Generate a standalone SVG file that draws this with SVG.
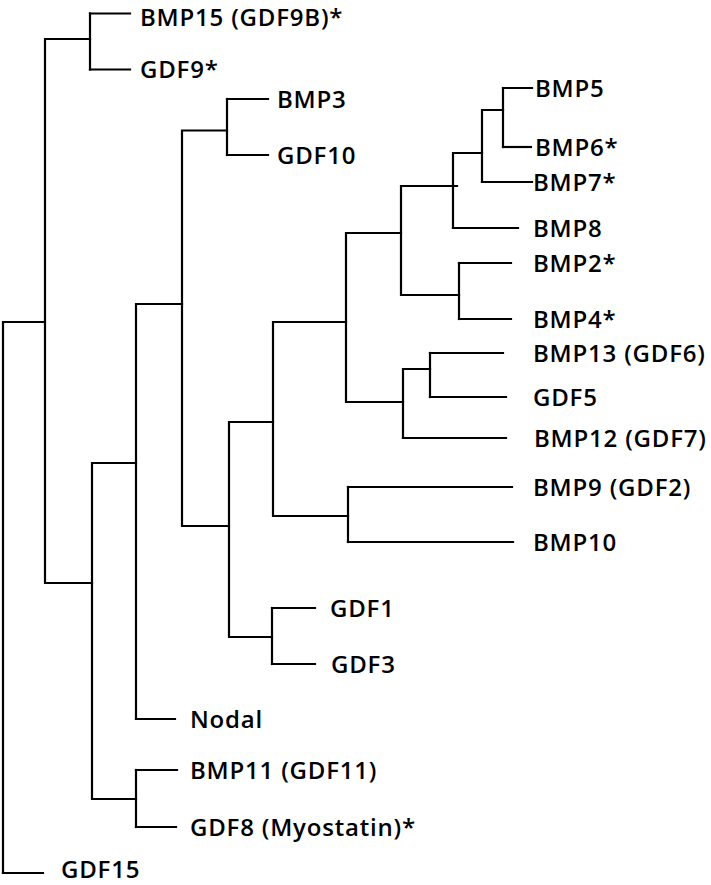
<svg xmlns="http://www.w3.org/2000/svg" width="711" height="885" viewBox="0 0 711 885">
<style>
.e{fill:none;stroke:#000;stroke-width:2.2;stroke-linecap:square}
.t{font-family:"Open Sans","Liberation Sans",sans-serif;font-size:24px;font-weight:600;letter-spacing:0.8px;fill:#000}
</style>
<rect width="711" height="885" fill="#fff"/>
<g id="connectors" class="e">
<path d="M3,322 V873 M3,322 H45"/>
<path d="M45,39 V583 M45,39 H90 M45,583 H92"/>
<path d="M90,13.5 V69.5"/>
<path d="M92,463 V799 M92,463 H136 M92,799 H136"/>
<path d="M136,304 V719 M136,304 H182"/>
<path d="M136,770 V827"/>
<path d="M182,130.5 V526 M182,130.5 H227 M182,526 H229"/>
<path d="M227,99 V155"/>
<path d="M229,422 V637 M229,422 H273 M229,637 H272"/>
<path d="M272,608 V664"/>
<path d="M273,322 V516 M273,322 H346 M273,516 H348"/>
<path d="M348,487 V542"/>
<path d="M346,233 V402 M346,233 H401 M346,402 H403"/>
<path d="M401,186 V295 M401,186 H457 M401,295 H459"/>
<path d="M453,153 V228 M453,153 H482"/>
<path d="M482,110 V182 M482,110 H503"/>
<path d="M503,88 V147"/>
<path d="M459,263 V319"/>
<path d="M403,369 V438 M403,369 H430"/>
<path d="M430,353 V397"/>
</g>
<g id="BMP15" ><path class="e" d="M90,13.5 H130"/><text class="t" x="140" y="26">BMP15 (GDF9B)*</text></g>
<g id="GDF9"><path class="e" d="M90,69.5 H130"/><text class="t" x="140" y="78">GDF9*</text></g>
<g id="BMP3"><path class="e" d="M227,99 H268"/><text class="t" x="277" y="107.5">BMP3</text></g>
<g id="GDF10"><path class="e" d="M227,155 H268"/><text class="t" x="277" y="163.5">GDF10</text></g>
<g id="BMP5"><path class="e" d="M503,88 H532"/><text class="t" x="535" y="96.5">BMP5</text></g>
<g id="BMP6"><path class="e" d="M503,147 H531"/><text class="t" x="535" y="155.5">BMP6*</text></g>
<g id="BMP7"><path class="e" d="M482,182 H532"/><text class="t" x="533" y="190.5">BMP7*</text></g>
<g id="BMP8"><path class="e" d="M453,228 H518"/><text class="t" x="533" y="236.5">BMP8</text></g>
<g id="BMP2"><path class="e" d="M459,263 H511"/><text class="t" x="533" y="271.5">BMP2*</text></g>
<g id="BMP4"><path class="e" d="M459,319 H511"/><text class="t" x="533" y="327.5">BMP4*</text></g>
<g id="BMP13"><path class="e" d="M430,353 H503"/><text class="t" x="533" y="361.5">BMP13 (GDF6)</text></g>
<g id="GDF5"><path class="e" d="M430,397 H506"/><text class="t" x="533" y="405.5">GDF5</text></g>
<g id="BMP12"><path class="e" d="M403,438 H506"/><text class="t" x="534" y="446.5">BMP12 (GDF7)</text></g>
<g id="BMP9"><path class="e" d="M348,487 H512"/><text class="t" x="533" y="495.5">BMP9 (GDF2)</text></g>
<g id="BMP10"><path class="e" d="M348,542 H513"/><text class="t" x="533" y="550.5">BMP10</text></g>
<g id="GDF1"><path class="e" d="M272,608 H315"/><text class="t" x="330" y="616.5">GDF1</text></g>
<g id="GDF3"><path class="e" d="M272,664 H315"/><text class="t" x="331" y="672.5">GDF3</text></g>
<g id="Nodal"><path class="e" d="M136,719 H175"/><text class="t" x="190" y="727.5">Nodal</text></g>
<g id="BMP11"><path class="e" d="M136,770 H177"/><text class="t" x="190" y="778.5">BMP11 (GDF11)</text></g>
<g id="GDF8"><path class="e" d="M136,827 H176"/><text class="t" x="190" y="835.5">GDF8 (Myostatin)*</text></g>
<g id="GDF15"><path class="e" d="M3,873 H43"/><text class="t" x="61" y="877.5">GDF15</text></g>
</svg>
